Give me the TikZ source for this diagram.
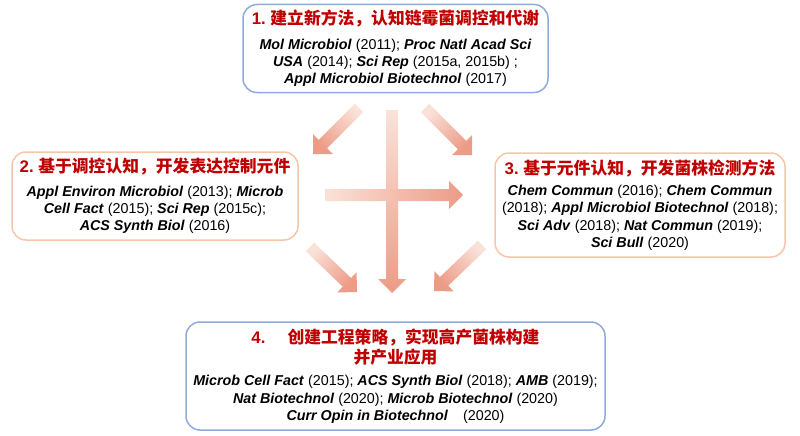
\documentclass[tikz,border=0pt]{standalone}
\usepackage{fontspec}
\setmainfont{Liberation Sans}
\newfontfamily\cjk{Noto Sans CJK SC}
\usepackage{tikz}
\usetikzlibrary{calc}

\definecolor{TitleRed}{RGB}{192,0,0}
\definecolor{BoxBlue}{RGB}{143,170,220}
\definecolor{BoxPeach}{RGB}{247,198,170}
\definecolor{ArrowPale}{RGB}{250,226,217}
\definecolor{ArrowDeep}{RGB}{236,155,134}

\newcommand{\jname}[1]{\textbf{\textit{#1}}}
\newcommand{\steptitle}[2]{{\fontsize{16.8}{20}\selectfont\bfseries\color{TitleRed}#1{\cjk #2}}}
% block arrow from #1 (tail) to #2 (tip), shading turned by #3
\newcommand{\gradarrow}[3]{%
  \coordinate (hb) at ($(#2)!14pt!(#1)$);
  \shade[top color=ArrowPale, bottom color=ArrowDeep, shading angle=#3]
    ($(#1)!6pt!90:(#2)$) -- ($(hb)!6pt!-90:(#1)$) -- ($(hb)!14pt!-90:(#1)$) -- (#2)
    -- ($(hb)!14pt!90:(#1)$) -- ($(hb)!6pt!90:(#1)$) -- ($(#1)!6pt!-90:(#2)$) -- cycle;
}

\begin{document}
\begin{tikzpicture}[x=1pt, y=-1pt,
    stepbox/.style={draw, line width=1.5pt, rounded corners=14pt, align=center,
      font=\fontsize{14.3}{17.4}\selectfont}]

  \useasboundingbox (0,0) rectangle (800,436);

  % Ends of the arrows
  \coordinate (TailUL) at (359,108);  \coordinate (TipUL) at (313,154);
  \coordinate (TailUR) at (425,108);  \coordinate (TipUR) at (472,155);
  \coordinate (TailLL) at (310,247);  \coordinate (TipLL) at (357,292);
  \coordinate (TailLR) at (482,245);  \coordinate (TipLR) at (434,291);
  \coordinate (TailV) at (392,110);   \coordinate (TipV) at (392,293);
  \coordinate (TailH) at (325,195);   \coordinate (TipH) at (463,195);

  % Arrows, pale at the tail
  \gradarrow{TailUL}{TipUL}{315}
  \gradarrow{TailUR}{TipUR}{45}
  \gradarrow{TailLL}{TipLL}{45}
  \gradarrow{TailLR}{TipLR}{315}
  \gradarrow{TailV}{TipV}{0}
  \gradarrow{TailH}{TipH}{90}

  % Step 1
  \node[stepbox, draw=BoxBlue, minimum width=305pt, minimum height=88pt] (Method) at (395.5,48.5)
    {\steptitle{1.\ }{建立新方法，认知链霉菌调控和代谢}\\[7pt]
     \jname{Mol Microbiol} (2011); \jname{Proc Natl Acad Sci}\\
     \jname{USA} (2014); \jname{Sci Rep} (2015a, 2015b) ;\\
     \jname{Appl Microbiol Biotechnol} (2017)};

  % Step 2
  \node[stepbox, draw=BoxPeach, minimum width=286pt, minimum height=88pt] (Parts) at (155,196)
    {\steptitle{2.\ }{基于调控认知，开发表达控制元件}\\[6pt]
     \jname{Appl Environ Microbiol} (2013); \jname{Microb}\\
     \jname{Cell Fact} (2015); \jname{Sci Rep} (2015c);\\
     \jname{ACS Synth Biol} (2016)};

  % Step 3
  \node[stepbox, draw=BoxPeach, minimum width=290pt, minimum height=104pt] (Detect) at (640,205)
    {\steptitle{3.\ }{基于元件认知，开发菌株检测方法}\\[4pt]
     \jname{Chem Commun} (2016); \jname{Chem Commun}\\
     (2018); \jname{Appl Microbiol Biotechnol} (2018);\\
     \jname{Sci Adv} (2018); \jname{Nat Commun} (2019);\\
     \jname{Sci Bull} (2020)};

  % Step 4
  \node[stepbox, draw=BoxBlue, minimum width=419pt, minimum height=108pt] (Engineer) at (395.5,376)
    {\steptitle{4.\hspace{22pt}}{创建工程策略，实现高产菌株构建}\\[3pt]
     \steptitle{}{并产业应用}\\[5pt]
     \jname{Microb Cell Fact} (2015); \jname{ACS Synth Biol} (2018); \jname{AMB} (2019);\\
     \jname{Nat Biotechnol} (2020); \jname{Microb Biotechnol} (2020)\\
     \jname{Curr Opin in Biotechnol}\hspace{15pt}(2020)};

\end{tikzpicture}
\end{document}
